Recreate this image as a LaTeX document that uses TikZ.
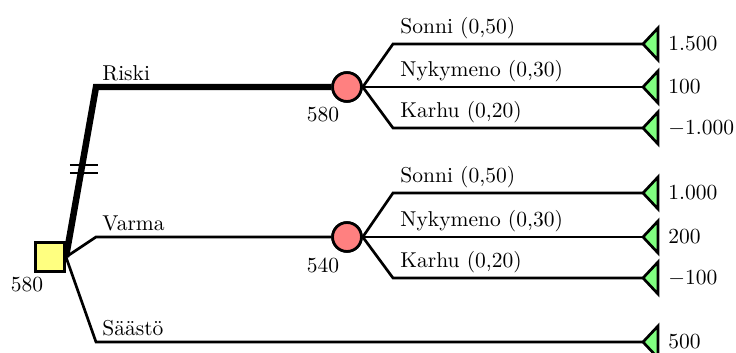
\documentclass[tikz,border=0pt]{standalone}
\usetikzlibrary{calc}
\definecolor{decfill}{RGB}{255,255,128}
\definecolor{chfill}{RGB}{255,128,128}
\definecolor{endfill}{RGB}{128,255,128}
\begin{document}
\begin{tikzpicture}[x=0.465pt,y=-0.465pt,
  branch/.style={line width=1.25pt},
  chosen/.style={line width=3pt},
  decision/.style={draw, line width=1.25pt, fill=decfill, minimum size=13.6pt, inner sep=0pt},
  chance/.style={circle, draw, line width=1.25pt, fill=chfill, minimum size=13.4pt, inner sep=0pt},
  payoff/.style={draw, line width=1.25pt, fill=endfill, line join=miter},
  lbl/.style={anchor=base west, inner sep=0pt},
  val/.style={anchor=west, inner sep=0pt},
  ev/.style={inner sep=0pt},
  cut/.style={line width=0.8pt}]
\useasboundingbox (0,0) rectangle (736,353);

% decision and chance nodes
\node[decision] (dec) at (50,257) {};
\node[chance] (c1) at (347,87) {};
\node[chance] (c2) at (347,237) {};

% elbows of the decision branches
\coordinate (r1) at (96,87);
\coordinate (v1) at (96,237);
\coordinate (s1) at (96,342);

% elbows of the chance branches
\coordinate (a1) at (393,44);
\coordinate (a3) at (393,128);
\coordinate (b1) at (393,193);
\coordinate (b3) at (393,278);

% tips of the payoff triangles
\coordinate (t1) at (643,44);
\coordinate (t2) at (643,87);
\coordinate (t3) at (643,128);
\coordinate (t4) at (643,193);
\coordinate (t5) at (643,237);
\coordinate (t6) at (643,278);
\coordinate (t7) at (643,342);

% decision branches
\draw[chosen] (dec.east) -- (r1) -- (c1.west);
\draw[branch] (dec.east) -- (v1) -- (c2.west);
\draw[branch] (dec.east) -- (s1) -- (t7);

% chance branches
\draw[branch] (c1.east) -- (a1) -- (t1);
\draw[branch] (c1.east) -- (t2);
\draw[branch] (c1.east) -- (a3) -- (t3);
\draw[branch] (c2.east) -- (b1) -- (t4);
\draw[branch] (c2.east) -- (t5);
\draw[branch] (c2.east) -- (b3) -- (t6);

% redraw nodes on top of the line ends
\node[decision] at (dec) {};
\node[chance] at (c1) {};
\node[chance] at (c2) {};

% cut mark on the chosen branch
\coordinate (m) at ($(dec.east)!0.5!(r1)$);
\draw[cut] ($(m)+(-11,-7)$) -- ($(m)+(17,-7)$);
\draw[cut] ($(m)+(-11,1)$) -- ($(m)+(17,1)$);

% payoff triangles
\foreach \t in {t1,t2,t3,t4,t5,t6,t7}
  \draw[payoff] (\t) -- ++(15,-16) -- ++(0,32) -- cycle;

% branch labels
\node[lbl] at ($(r1)+(6,-7)$) {Riski};
\node[lbl] at ($(v1)+(6,-7)$) {Varma};
\node[lbl] at ($(s1)+(6,-7)$) {Säästö};
\node[lbl] at ($(a1)+(7,-11)$) {Sonni (0,50)};
\node[lbl] at ($(a1)+(7,32)$) {Nykymeno (0,30)};
\node[lbl] at ($(a3)+(7,-11)$) {Karhu (0,20)};
\node[lbl] at ($(b1)+(7,-11)$) {Sonni (0,50)};
\node[lbl] at ($(b1)+(7,33)$) {Nykymeno (0,30)};
\node[lbl] at ($(b3)+(7,-11)$) {Karhu (0,20)};

% payoffs
\node[val] at ($(t1)+(25,0)$) {1.500};
\node[val] at ($(t2)+(25,0)$) {100};
\node[val] at ($(t3)+(25,0)$) {$-1.000$};
\node[val] at ($(t4)+(25,0)$) {1.000};
\node[val] at ($(t5)+(25,0)$) {200};
\node[val] at ($(t6)+(25,0)$) {$-100$};
\node[val] at ($(t7)+(25,0)$) {500};

% expected values
\node[ev] at ($(dec)+(-23,28)$) {580};
\node[ev] at ($(c1)+(-24,28)$) {580};
\node[ev] at ($(c2)+(-24,28)$) {540};
\end{tikzpicture}
\end{document}
